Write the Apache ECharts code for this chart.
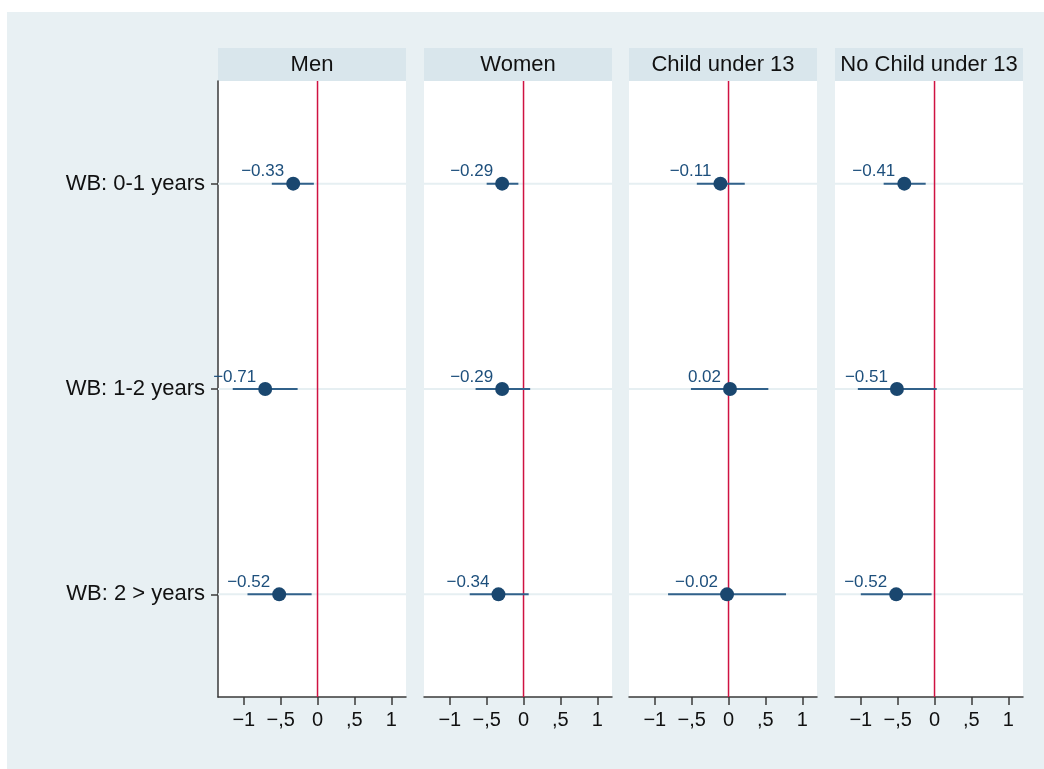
<!DOCTYPE html>
<html>
<head>
<meta charset="utf-8">
<script src="https://cdn.jsdelivr.net/npm/echarts@6/dist/echarts.min.js"></script>
<style>
  html, body { margin: 0; padding: 0; background: #fff; }
  #chart { width: 1044px; height: 769px; }
</style>
</head>
<body>
<div id="chart"></div>
<script>
// Paneles y categorías
const panels = ["Men", "Women", "Child under 13", "No Child under 13"];
const categories = ["WB: 0-1 years", "WB: 1-2 years", "WB: 2 > years"];

// Coeficientes e intervalos de confianza por panel
const estMen = [-0.33, -0.71, -0.52];
const loMen = [-0.62, -1.15, -0.95];
const hiMen = [-0.05, -0.27, -0.08];

const estWomen = [-0.29, -0.29, -0.34];
const loWomen = [-0.50, -0.65, -0.73];
const hiWomen = [-0.07, 0.09, 0.07];

const estChild = [-0.11, 0.02, -0.02];
const loChild = [-0.43, -0.51, -0.82];
const hiChild = [0.22, 0.54, 0.78];

const estNoChild = [-0.41, -0.51, -0.52];
const loNoChild = [-0.69, -1.04, -1.00];
const hiNoChild = [-0.12, 0.03, -0.04];

// Etiquetas del eje x
const xTicks = [-1, -0.5, 0, 0.5, 1];
const xTickLabels = ["−1", "−,5", "0", ",5", "1"];

const estimates = [estMen, estWomen, estChild, estNoChild];
const lows = [loMen, loWomen, loChild, loNoChild];
const highs = [hiMen, hiWomen, hiChild, hiNoChild];

// Layout
const gridLefts = [218, 424, 629, 835];
const gridWidth = 188;
const gridTop = 81;
const gridHeight = 616;
const FONT = "'Liberation Sans', Arial, sans-serif";

function fmtValue(v) {
  return (v < 0 ? "−" : "") + Math.abs(v).toFixed(2);
}

const chart = echarts.init(document.getElementById("chart"));

const grids = [], xAxes = [], yAxes = [], series = [], graphics = [];

// Fondo exterior
graphics.push({
  type: "rect",
  shape: { x: 7, y: 12, width: 1044, height: 769 },
  style: { fill: "#e8f0f3" },
  z: -10,
});

panels.forEach((name, i) => {
  grids.push({
    left: gridLefts[i], top: gridTop, width: gridWidth, height: gridHeight,
    show: true, backgroundColor: "#ffffff", borderWidth: 0,
  });

  // Encabezado del panel
  graphics.push({
    type: "group",
    children: [
      {
        type: "rect",
        shape: { x: gridLefts[i], y: 48, width: gridWidth, height: 33 },
        style: { fill: "#d9e6ec" },
      },
      {
        type: "text",
        x: gridLefts[i] + gridWidth / 2, y: 65,
        style: {
          text: name, fill: "#111", font: "22px " + FONT,
          align: "center", verticalAlign: "middle",
        },
      },
    ],
  });

  xAxes.push({
    gridIndex: i, type: "value", min: -1.35, max: 1.2,
    axisLine: { show: true, onZero: false, lineStyle: { color: "#3a3a3a", width: 1.5 } },
    axisTick: { show: true, length: 8, customValues: xTicks, lineStyle: { color: "#3a3a3a", width: 1.5 } },
    axisLabel: {
      customValues: xTicks,
      formatter: (v) => xTickLabels[xTicks.indexOf(v)] ?? "",
      fontSize: 20, color: "#111", fontFamily: FONT, margin: 13,
    },
    splitLine: { show: false },
  });

  yAxes.push({
    gridIndex: i, type: "category", data: categories, inverse: true, boundaryGap: true,
    axisLine: { show: i === 0, onZero: false, lineStyle: { color: "#3a3a3a", width: 1.5 } },
    axisTick: { show: i === 0, alignWithLabel: true, length: 7, lineStyle: { color: "#3a3a3a", width: 1.5 } },
    axisLabel: { show: i === 0, fontSize: 22, color: "#111", fontFamily: FONT, margin: 13 },
    splitLine: { show: false },
  });

  // Líneas de referencia horizontales
  series.push({
    type: "custom",
    xAxisIndex: i, yAxisIndex: i,
    z: 1, silent: true,
    data: categories.map((c, k) => [0, k]),
    encode: { x: 0, y: 1 },
    renderItem: function (params, api) {
      const cs = params.coordSys;
      const y = api.coord([0, api.value(1)])[1];
      return {
        type: "line",
        shape: { x1: cs.x, y1: y, x2: cs.x + cs.width, y2: y },
        style: { stroke: "#e6eff2", lineWidth: 2 },
      };
    },
  });

  // Línea roja en cero
  series.push({
    type: "custom",
    xAxisIndex: i, yAxisIndex: i,
    z: 2, silent: true,
    data: [[0, 0]],
    encode: { x: 0, y: 1 },
    renderItem: function (params, api) {
      const cs = params.coordSys;
      const x = api.coord([api.value(0), 0])[0];
      return {
        type: "line",
        shape: { x1: x, y1: cs.y, x2: x, y2: cs.y + cs.height },
        style: { stroke: "#cf1242", lineWidth: 1.5 },
      };
    },
  });

  // Intervalos de confianza
  series.push({
    type: "custom",
    xAxisIndex: i, yAxisIndex: i,
    z: 3,
    data: categories.map((c, k) => [lows[i][k], highs[i][k], k]),
    encode: { x: [0, 1], y: 2 },
    renderItem: function (params, api) {
      const p1 = api.coord([api.value(0), api.value(2)]);
      const p2 = api.coord([api.value(1), api.value(2)]);
      return {
        type: "line",
        shape: { x1: p1[0], y1: p1[1], x2: p2[0], y2: p2[1] },
        style: { stroke: "#31618a", lineWidth: 2 },
      };
    },
  });

  // Estimaciones puntuales
  series.push({
    type: "scatter",
    xAxisIndex: i, yAxisIndex: i,
    z: 4,
    symbolSize: 14,
    itemStyle: { color: "#1a476f", opacity: 1 },
    data: categories.map((c, k) => [estimates[i][k], k]),
    label: {
      show: true, position: "left", distance: 2, offset: [0, -12],
      formatter: (p) => fmtValue(p.value[0]),
      fontSize: 17, color: "#1d4f7c", fontFamily: FONT,
    },
  });
});

chart.setOption({
  animation: false,
  backgroundColor: "#ffffff",
  graphic: graphics,
  grid: grids,
  xAxis: xAxes,
  yAxis: yAxes,
  series: series,
});

window.addEventListener("resize", () => chart.resize());
</script>
</body>
</html>
